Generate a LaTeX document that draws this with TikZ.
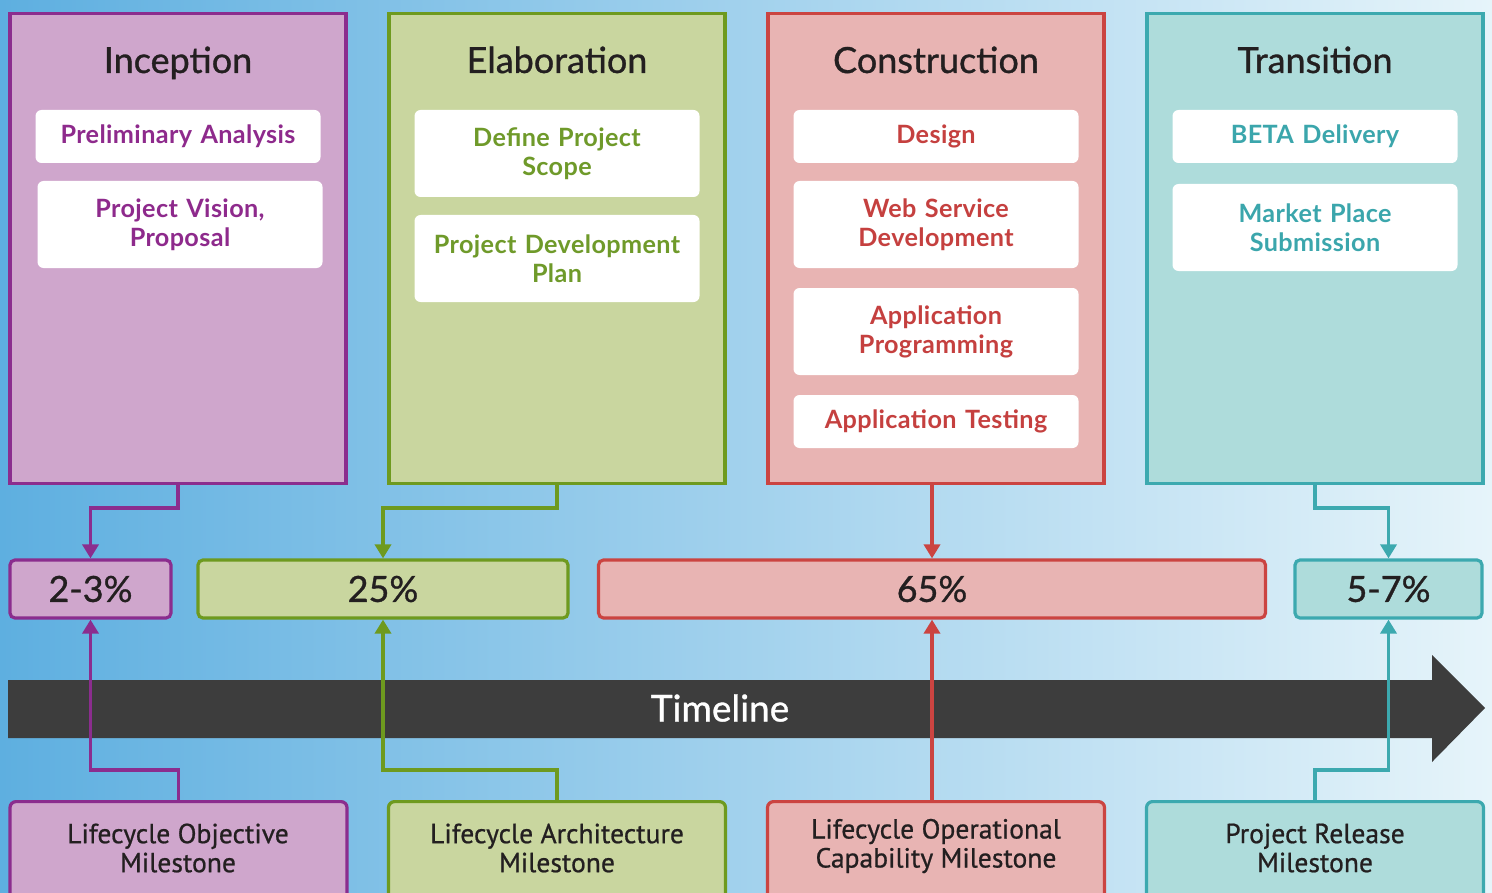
\documentclass[tikz,border=0pt]{standalone}
\usepackage{fontspec}
\setmainfont{Lato}
\newfontfamily\medfont{Lato}[FakeBold=0.9]
\newfontfamily\itemfont{Lato Bold}[LetterSpace=1.5]
\newfontfamily\msfont{PT Sans}[FakeBold=0.7]
\usetikzlibrary{arrows.meta}
\definecolor{Pfill}{HTML}{CFA6CC}
\definecolor{Pline}{HTML}{8B2D8E}
\definecolor{Ptxt}{HTML}{8E2A8C}
\definecolor{Gfill}{HTML}{C9D69F}
\definecolor{Gline}{HTML}{6E9A1F}
\definecolor{Gtxt}{HTML}{6F9A2A}
\definecolor{Rfill}{HTML}{E8B4B3}
\definecolor{Rline}{HTML}{CB4441}
\definecolor{Rtxt}{HTML}{C5403F}
\definecolor{Tfill}{HTML}{AEDCDB}
\definecolor{Tline}{HTML}{3CA9AF}
\definecolor{Ttxt}{HTML}{3BA6AC}
\definecolor{darktxt}{HTML}{231F20}
\definecolor{bardark}{HTML}{3D3D3D}
\definecolor{bgL}{HTML}{5EAFE0}
\definecolor{bgM}{HTML}{BFE3F5}
\definecolor{bgR}{HTML}{E6F4FA}
\begin{document}
\begin{tikzpicture}[x=0.5pt,y=-0.5pt,
  phase/.style={draw=#1line, fill=#1fill, line width=1.6pt, minimum width=168pt,
    minimum height=235pt, inner sep=0pt, anchor=north},
  ptitle/.style={font=\medfont\fontsize{18}{21}\selectfont, text=darktxt, anchor=base, inner sep=0pt},
  item/.style={fill=white, rounded corners=3pt, minimum width=142.5pt, text width=140pt,
    align=center, inner sep=0pt, text=#1txt, font=\itemfont\fontsize{12.6}{14.5}\selectfont},
  pct/.style={draw=#1line, fill=#1fill, line width=1.6pt, rounded corners=2.5pt,
    minimum height=29pt, inner sep=0pt, text=darktxt, font=\medfont\fontsize{18}{21}\selectfont},
  mbox/.style={draw=#1line, fill=#1fill, line width=1.6pt, rounded corners=3pt,
    minimum width=168.5pt, minimum height=60pt, inner sep=0pt, anchor=north},
  mtext/.style={align=center, text=darktxt, inner sep=0pt, font=\msfont\fontsize{13.8}{14.5}\selectfont},
  conn/.style={draw=#1line, line width=1.8pt, -{Triangle[length=7pt,width=8pt]}}
]
\clip (0,0) rectangle (1492,893);
\shade[left color=bgL, middle color=bgM, right color=bgR] (0,0) rectangle (1492,893);

% phase boxes
\node[phase=P] (ph1) at (178,12) {};
\node[phase=G] (ph2) at (557,12) {};
\node[phase=R] (ph3) at (936,12) {};
\node[phase=T] (ph4) at (1315,12) {};

\node[ptitle] (t1) at (178,73) {Inception};
\node[ptitle] (t2) at (557,73) {Elaboration};
\node[ptitle] (t3) at (936,73) {Construction};
\node[ptitle] (t4) at (1315,73) {Transition};

% items
\node[item=P, minimum height=26.5pt] (i11) at (178,136.5) {Preliminary Analysis};
\node[item=P, minimum height=43.5pt] (i12) at (180,224.5) {Project Vision,\\Proposal};
\node[item=G, minimum height=43.5pt] (i21) at (557,153.5) {Define Project\\Scope};
\node[item=G, minimum height=43.5pt] (i22) at (557,258.5) {Project Development\\Plan};
\node[item=R, minimum height=26.5pt] (i31) at (936,136.5) {Design};
\node[item=R, minimum height=43.5pt] (i32) at (936,224.5) {Web Service\\Development};
\node[item=R, minimum height=43.5pt] (i33) at (936,331.5) {Application\\Programming};
\node[item=R, minimum height=26.5pt] (i34) at (936,421.5) {Application Testing};
\node[item=T, minimum height=26.5pt] (i41) at (1315,136.5) {BETA Delivery};
\node[item=T, minimum height=43.5pt] (i42) at (1315,227.5) {Market Place\\Submission};

% percentage boxes
\node[pct=P, minimum width=80.5pt] (p1) at (90.5,589) {2-3\%};
\node[pct=G, minimum width=185pt] (p2) at (383,589) {25\%};
\node[pct=R, minimum width=333.5pt] (p3) at (932,589) {65\%};
\node[pct=T, minimum width=93.5pt] (p4) at (1388.5,589) {5-7\%};

% timeline arrow
\fill[bardark] (8,680) -- (1432,680) -- (1432,655) -- (1485,708) -- (1432,762)
  -- (1432,738) -- (8,738) -- cycle;
\node[text=white, font=\medfont\fontsize{18.5}{22}\selectfont, inner sep=0pt] (tl) at (720,708) {Timeline};

% milestone boxes
\node[mbox=P] (m1) at (178.5,800) {};
\node[mbox=G] (m2) at (557,800) {};
\node[mbox=R] (m3) at (936,800) {};
\node[mbox=T] (m4) at (1315,800) {};
\node[mtext] (mt1) at (178,848) {Lifecycle Objective\\Milestone};
\node[mtext] (mt2) at (557,848) {Lifecycle Architecture\\Milestone};
\node[mtext] (mt3) at (936,846) {Lifecycle Operational\\Capability Milestone};
\node[mtext] (mt4) at (1315,848) {Project Release\\Milestone};

% connectors top
\draw[conn=P] (ph1.south) -- ++(0,23) -| (p1.north);
\draw[conn=G] (ph2.south) -- ++(0,23) -| (p2.north);
\draw[conn=R] (ph3.south -| p3.north) -- (p3.north);
\draw[conn=T] (ph4.south) -- ++(0,23) -| (p4.north);

% connectors bottom
\draw[conn=P] (m1.north) -- ++(0,-30) -| (p1.south);
\draw[conn=G] (m2.north) -- ++(0,-30) -| (p2.south);
\draw[conn=R] (m3.north -| p3.south) -- (p3.south);
\draw[conn=T] (m4.north) -- ++(0,-30) -| (p4.south);
\end{tikzpicture}
\end{document}
